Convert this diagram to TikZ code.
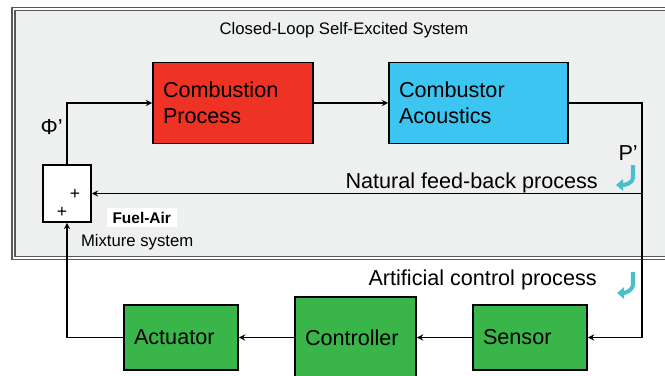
\documentclass[tikz,border=0pt]{standalone}
\usepackage{fontspec}
\setmainfont{Liberation Sans}
\usepackage{xcolor}
\usepackage{tikz}
\usetikzlibrary{arrows.meta}
\definecolor{combred}{RGB}{238,50,36}
\definecolor{acoublue}{RGB}{59,197,240}
\definecolor{ctrlgreen}{RGB}{57,181,74}
\definecolor{loopgray}{RGB}{238,239,239}
\definecolor{hookcyan}{RGB}{75,190,205}
\tikzset{blk/.style={draw,line width=1.1pt,align=left,inner xsep=0.2cm,inner ysep=0pt,font=\fontsize{12.3}{14.8}\selectfont},
    lbl/.style={inner sep=0pt,font=\fontsize{12.3}{14.8}\selectfont},
    small/.style={inner sep=0pt,font=\fontsize{9.5}{11}\selectfont},
    frm/.style={draw=black!65,line width=0.7pt},
    hook/.style={hookcyan,line width=2.3pt,-{Triangle[length=4pt,width=6.5pt]}}}

\begin{document}
\begin{tikzpicture}[>=stealth,x=0.02cm,y=-0.02cm,line width=0.6pt]
    \useasboundingbox (0,0) rectangle (665,375);
    % system frame
    \draw [frm,fill=white] (12,7.5) rectangle (730,259.5);
    \draw [frm,fill=loopgray] (15,10.5) rectangle (727,256.5);
    \node[small,anchor=base] (title) at (344,35) {Closed-Loop Self-Excited System};

    \node[blk,fill=combred,text width=2.8cm,minimum height=1.62cm] (comb) at (233,103) {Combustion\\Process};
    \node[blk,fill=acoublue,text width=3.18cm,minimum height=1.62cm] (acou) at (478.5,103) {Combustor\\Acoustics};
    \node[draw,fill=white,line width=1pt,minimum width=0.96cm,minimum height=1.14cm] (mix) at (67,193.5) {};
    \node[blk,fill=ctrlgreen,text width=1.88cm,minimum height=1.3cm] (act) at (181,337.5) {Actuator};
    \node[blk,fill=ctrlgreen,text width=2.02cm,minimum height=1.62cm] (ctrl) at (355.5,337.5) {Controller};
    \node[blk,fill=ctrlgreen,text width=1.88cm,minimum height=1.3cm] (sen) at (530,337.5) {Sensor};
    \coordinate (fb) at (642,193.5);

    \node[inner sep=0pt,font=\fontsize{10}{11}\selectfont] (plusa) at (75,194) {+};
    \node[inner sep=0pt,font=\fontsize{10}{11}\selectfont] (plusb) at (62,212) {+};
    \node[fill=white,inner xsep=0.12cm,inner ysep=0.08cm,anchor=base west,font=\fontsize{8.8}{10}\selectfont\bfseries] (fuel) at (106,223) {Fuel-Air};
    \node[small,anchor=base west] (mixlbl) at (80.5,246) {Mixture system};
    \node[lbl,anchor=base west] (phi) at (40,134) {Φ'};
    \node[lbl,anchor=base west] (p) at (618,160) {P'};
    \node[lbl,anchor=base west] (nat) at (345,188) {Natural feed-back process};
    \node[lbl,anchor=base west] (art) at (368,285) {Artificial control process};

    \draw [->] (mix) |- (comb);
    \draw [->] (comb) to (acou);
    \draw [->] (acou) -| (fb) to (mix);
    \draw [->] (fb) |- (sen);
    \draw [->] (sen) to (ctrl);
    \draw [->] (ctrl) to (act);
    \draw [->] (act) -| (mix);

    \draw [hook] (633,165) -- (633,177) to[out=-90,in=0] (616,185);
    \draw [hook] (633,272) -- (633,284) to[out=-90,in=0] (617,293);
\end{tikzpicture}
\end{document}
